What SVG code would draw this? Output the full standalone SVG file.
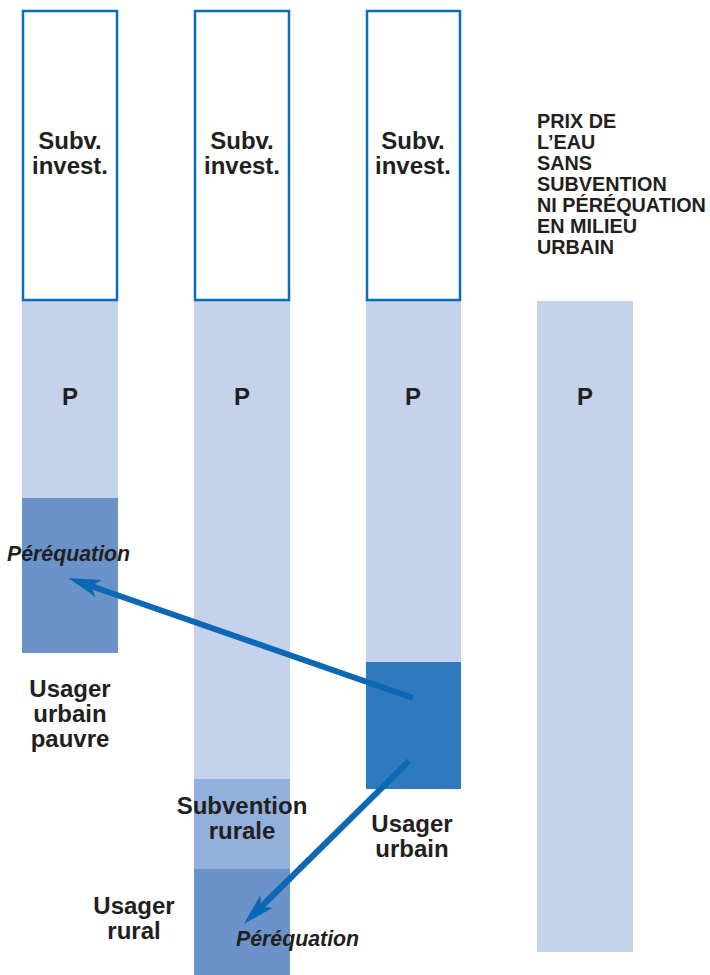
<svg xmlns="http://www.w3.org/2000/svg" width="710" height="975" viewBox="0 0 710 975">
  <style>
    .box { fill: #ffffff; stroke: #0b6bb8; stroke-width: 2.5; }
    .light { fill: #c4d3eb; }
    .mid { fill: #93afdb; }
    .med { fill: #6a94c9; }
    .dark { fill: #2e7abd; }
    text { font-family: "Liberation Sans", Arial, Helvetica, sans-serif; font-weight: bold; fill: #231f20; }
    .lbl { font-size: 24px; text-anchor: middle; }
    .p { font-size: 24px; text-anchor: middle; }
    .cap { font-size: 19.8px; }
    .eq { font-size: 21.3px; font-style: italic; }
    .conn { stroke: #0b68b5; stroke-width: 6; fill: none; }
  </style>
  <defs>
    <marker id="head" markerUnits="userSpaceOnUse" viewBox="0 0 32 18" refX="8" refY="9" markerWidth="32" markerHeight="18" orient="auto">
      <path d="M0,0 L32,9 L0,18 L8,9 Z" fill="#0b68b5"/>
    </marker>
  </defs>

  <!-- column 1: poor urban user -->
  <g id="col-urbain-pauvre">
    <rect class="light" x="22" y="300" width="96" height="198"/>
    <rect class="med" x="22" y="498" width="96" height="155"/>
    <rect class="box" x="23" y="11" width="94" height="289"/>
    <text class="lbl" x="70" y="149">Subv.</text>
    <text class="lbl" x="70" y="174">invest.</text>
    <text class="p" x="70" y="405">P</text>
    <text class="eq" x="7" y="561">Péréquation</text>
    <text class="lbl" x="70" y="697">Usager</text>
    <text class="lbl" x="70" y="722">urbain</text>
    <text class="lbl" x="70" y="747">pauvre</text>
  </g>

  <!-- column 2: rural user -->
  <g id="col-rural">
    <rect class="light" x="194" y="300" width="96" height="479"/>
    <rect class="mid" x="194" y="779" width="96" height="90"/>
    <rect class="med" x="194" y="869" width="96" height="106"/>
    <rect class="box" x="195" y="11" width="94" height="289"/>
    <text class="lbl" x="242" y="149">Subv.</text>
    <text class="lbl" x="242" y="174">invest.</text>
    <text class="p" x="242" y="405">P</text>
    <text class="lbl" x="242" y="814">Subvention</text>
    <text class="lbl" x="242" y="839">rurale</text>
    <text class="lbl" x="134" y="914">Usager</text>
    <text class="lbl" x="134" y="939">rural</text>
    <text class="eq" x="236" y="946">Péréquation</text>
  </g>

  <!-- column 3: urban user -->
  <g id="col-urbain">
    <rect class="light" x="366" y="300" width="95" height="362"/>
    <rect class="dark" x="366" y="662" width="95" height="127"/>
    <rect class="box" x="367" y="11" width="93" height="289"/>
    <text class="lbl" x="413" y="149">Subv.</text>
    <text class="lbl" x="413" y="174">invest.</text>
    <text class="p" x="413" y="405">P</text>
    <text class="lbl" x="412" y="832">Usager</text>
    <text class="lbl" x="412" y="857">urbain</text>
  </g>

  <!-- column 4: reference urban price -->
  <g id="col-reference">
    <rect class="light" x="537" y="301" width="96" height="651"/>
    <text class="p" x="585" y="405">P</text>
    <text class="cap" x="537" y="128">PRIX DE</text>
    <text class="cap" x="537" y="149">L’EAU</text>
    <text class="cap" x="537" y="170">SANS</text>
    <text class="cap" x="537" y="191">SUBVENTION</text>
    <text class="cap" x="537" y="212">NI PÉRÉQUATION</text>
    <text class="cap" x="537" y="233">EN MILIEU</text>
    <text class="cap" x="537" y="254">URBAIN</text>
  </g>

  <!-- equalisation transfers -->
  <g id="connectors">
    <line class="conn" x1="413" y1="698" x2="91" y2="586" marker-end="url(#head)"/>
    <line class="conn" x1="409" y1="761" x2="261" y2="907" marker-end="url(#head)"/>
  </g>
</svg>
